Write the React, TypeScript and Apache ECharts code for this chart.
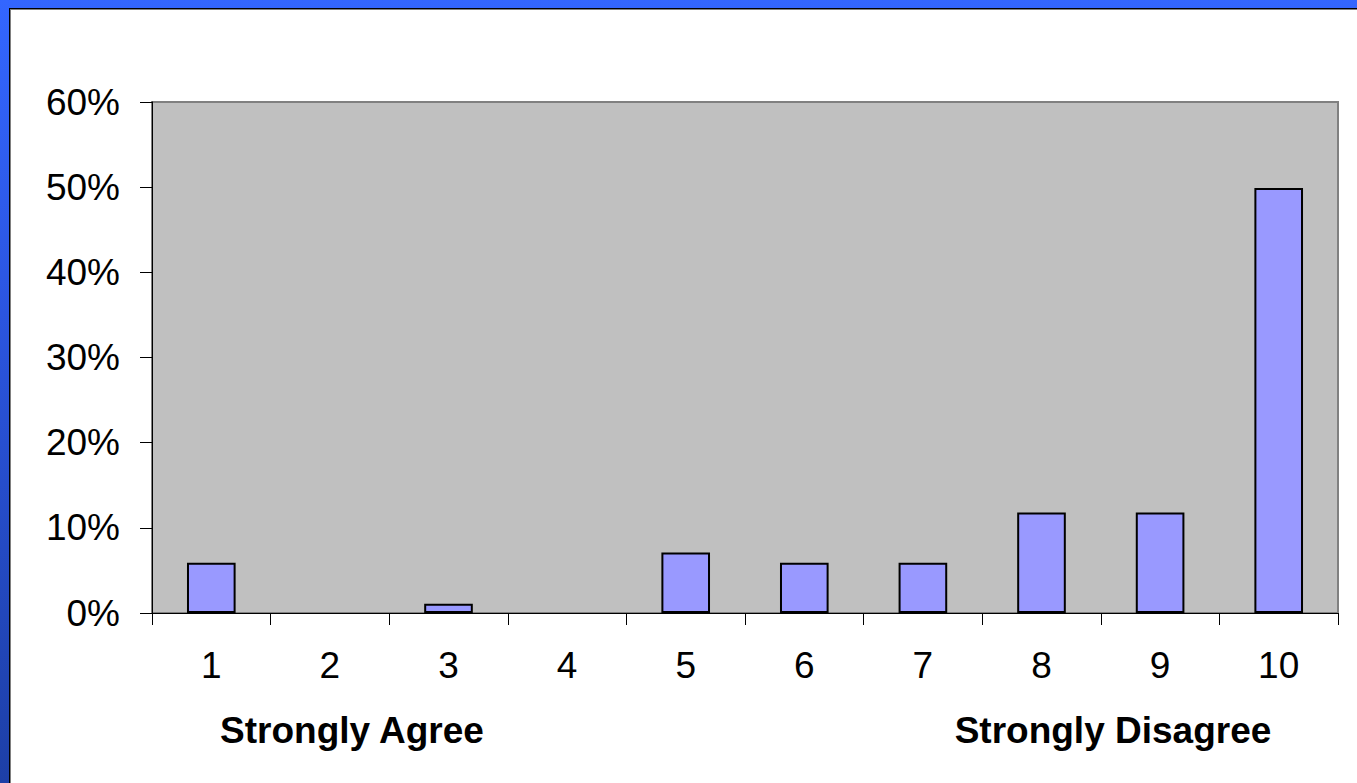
import React, { useEffect, useRef } from "react";
import * as echarts from "echarts";

// Survey response share per rating (1 = strongly agree, 10 = strongly disagree)
const categories = ["1", "2", "3", "4", "5", "6", "7", "8", "9", "10"];
const shares = [5.9, 0, 1.1, 0, 7.1, 5.9, 5.9, 11.8, 11.8, 49.9];
const yTicks = [0, 10, 20, 30, 40, 50, 60];
const endLabels = ["Strongly Agree", "Strongly Disagree"];

const FONT = "'Liberation Sans', Arial, Helvetica, sans-serif";

export default function App() {
  const ref = useRef<HTMLDivElement | null>(null);

  useEffect(() => {
    if (!ref.current) return;
    const chart = echarts.init(ref.current, undefined, { renderer: "svg" });
    chart.setOption({
      animation: false,
      backgroundColor: "transparent",
      grid: {
        left: 152,
        top: 102,
        right: 19,
        bottom: 170,
        show: true,
        backgroundColor: "#C0C0C0",
        borderColor: "#808080",
        borderWidth: 2,
      },
      xAxis: {
        type: "category",
        data: categories,
        axisLine: { show: true, lineStyle: { color: "#000", width: 1 } },
        axisTick: { show: true, length: 12, lineStyle: { color: "#000" } },
        axisLabel: { color: "#000", fontSize: 37, fontFamily: FONT, margin: 34 },
      },
      yAxis: {
        type: "value",
        min: yTicks[0],
        max: yTicks[yTicks.length - 1],
        interval: 10,
        splitLine: { show: false },
        axisLine: { show: true, lineStyle: { color: "#000", width: 1 } },
        axisTick: { show: true, length: 12, lineStyle: { color: "#000" } },
        axisLabel: {
          color: "#000",
          fontSize: 37,
          fontFamily: FONT,
          margin: 32,
          formatter: (v: number) => `${v}%`,
        },
      },
      series: [
        {
          type: "bar",
          // empty ratings get no outline so no stray stroke sits on the baseline
          data: shares.map((v) =>
            v === 0 ? { value: v, itemStyle: { borderWidth: 0 } } : v
          ),
          barWidth: "41%",
          itemStyle: { color: "#9999FF", borderColor: "#000", borderWidth: 2 },
        },
      ],
      graphic: [
        {
          type: "text",
          x: 352,
          y: 730,
          style: {
            text: endLabels[0],
            fill: "#000",
            font: `bold 37px ${FONT}`,
            align: "center",
            verticalAlign: "middle",
          },
        },
        {
          type: "text",
          x: 1113,
          y: 730,
          style: {
            text: endLabels[1],
            fill: "#000",
            font: `bold 37px ${FONT}`,
            align: "center",
            verticalAlign: "middle",
          },
        },
      ],
    });
    return () => chart.dispose();
  }, []);

  return (
    <div
      style={{
        position: "fixed",
        left: 0,
        top: 0,
        width: 1357,
        height: 783,
        overflow: "hidden",
        background: "linear-gradient(to bottom, #3366FF 0%, #2B55E0 40%, #1D3FA6 100%)",
      }}
    >
      <div
        style={{
          position: "absolute",
          left: 9,
          top: 8,
          right: 0,
          bottom: 0,
          background: "#FFFFFF",
          borderTop: "1px solid #000",
          borderLeft: "1px solid #000",
          boxShadow: "inset 1px 1px 0 #808080",
        }}
      />
      <div ref={ref} style={{ position: "absolute", left: 0, top: 0, width: 1357, height: 783 }} />
    </div>
  );
}
